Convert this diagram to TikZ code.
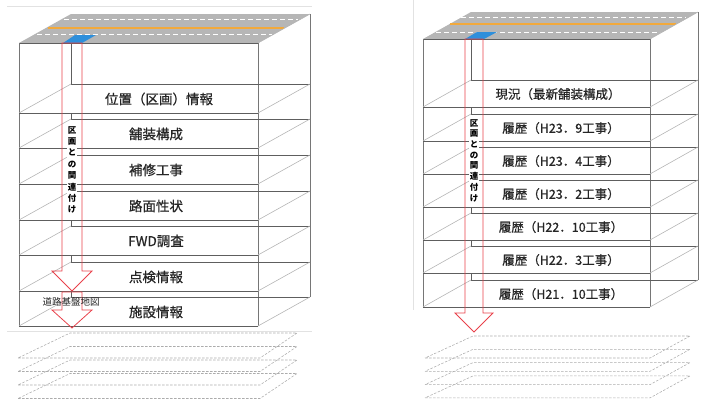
\documentclass[tikz,border=0pt]{standalone}
\usepackage{fontspec}
\setmainfont{Noto Sans CJK JP}
\newfontfamily\lblfont{Noto Sans CJK JP}[FakeBold=0.7]
\definecolor{roadgray}{HTML}{B6B6B6}
\definecolor{edgegray}{HTML}{5E5E5E}
\definecolor{diaggray}{HTML}{B4B4B4}
\definecolor{arrowred}{HTML}{E8414B}
\definecolor{laneorange}{HTML}{F2A93B}
\definecolor{patchblue}{HTML}{2E8FDB}
\definecolor{framegray}{HTML}{E2E2E2}
\tikzset{
  edgeline/.style={draw=edgegray, line width=0.9pt},
  backline/.style={draw=edgegray, line width=0.7pt},
  diagline/.style={draw=diaggray, line width=0.6pt},
  vertline/.style={draw=edgegray!85, line width=0.8pt},
  ghostplane/.style={draw=gray!65, line width=0.55pt, dash pattern=on 2.5pt off 1.5pt},
  hollowarrow/.style={draw=arrowred, line width=0.8pt, line join=miter},
  lanedash/.style={draw=white, line width=0.9pt, dash pattern=on 5pt off 3pt},
  laneline/.style={draw=laneorange, line width=1.4pt},
  framel/.style={draw=framegray, line width=0.6pt},
  lblL/.style={inner sep=0, text=black!85, font=\lblfont\fontsize{13.5}{15}\selectfont},
  lblR/.style={inner sep=0, text=black!85, font=\lblfont\fontsize{12.5}{14}\selectfont},
  vtextL/.style={inner sep=0.5pt, fill=white, align=center, font=\bfseries\fontsize{8.5}{11.4}\selectfont},
  vtextR/.style={inner sep=0.5pt, fill=white, align=center, font=\bfseries\fontsize{8.5}{10.7}\selectfont},
  smalllbl/.style={inner sep=0, text=black!85, font=\fontsize{9.5}{10}\selectfont}
}
\begin{document}
\begin{tikzpicture}[x=1pt,y=-1pt]
\useasboundingbox (0,0) rectangle (708,399);
% faint frames of the pasted pictures
\draw[framel] (7,6) -- (312,6);
\draw[framel] (7,331) -- (312,331);
\draw[framel] (413,0) -- (413,310);

% ================= LEFT BLOCK =================
\fill[roadgray] (19,43) -- (258,43) -- (310,14) -- (71,14) -- cycle;
\draw[lanedash] (64,19) -- (298,19);
\draw[lanedash] (37,34) -- (272,34);
\draw[laneline] (48,28) -- (284,28);
\fill[patchblue] (63,43) -- (82,43) -- (96,35) -- (75,35) -- cycle;
\draw[edgeline] (19,43) -- (258,43);
\draw[diagline] (258,43) -- (310,14);
\draw[vertline] (19,43) -- (19,326);
\draw[vertline] (258,43) -- (258,326);
\draw[vertline] (310,14) -- (310,297);
\foreach \y in {113,148,184,220,255,291,326}{
  \draw[backline] (71,\y-29) -- (310,\y-29);
  \draw[diagline] (19,\y) -- (71,\y-29);
  \draw[diagline] (258,\y) -- (310,\y-29);
  \draw[edgeline] (19,\y) -- (258,\y);
}
\foreach \a/\b in {43/113,113/148,148/184,184/220,220/255,255/291,291/326}{
  \draw[backline] (71,\a) -- (71,\b-29);
}
\node[lblL] (l1) at (159,99) {位置（区画）情報};
\node[lblL] (l2) at (156,134) {舗装構成};
\node[lblL] (l3) at (156,170) {補修工事};
\node[lblL] (l4) at (156,206) {路面性状};
\node[lblL] (l5) at (156,241) {FWD調査};
\node[lblL] (l6) at (156,277) {点検情報};
\node[lblL] (l7) at (156,312) {施設情報};
\foreach \k in {0,1,2,3}{
  \pgfmathsetmacro{\bb}{333+13.5*\k}
  \draw[ghostplane] (18,\bb+25) -- (260,\bb+25) -- (297,\bb) -- (70,\bb) -- cycle;
}
\draw[hollowarrow] (62,43) -- (82,43) -- (82,271) -- (92,271) -- (72,291) -- (52,271) -- (62,271) -- cycle;
\draw[hollowarrow] (62,292) -- (82,292) -- (82,310) -- (92,310) -- (72,328) -- (52,310) -- (62,310) -- cycle;
\node[vtextL] (vl) at (72,170) {区\\画\\と\\の\\関\\連\\付\\け};
\node[smalllbl] (base) at (71,302) {道路基盤地図};

% ================= RIGHT BLOCK =================
\fill[roadgray] (423,39) -- (650,39) -- (698,12) -- (471,12) -- cycle;
\draw[lanedash] (461,17) -- (686,17);
\draw[lanedash] (436,32) -- (660,32);
\draw[laneline] (450,24) -- (676,24);
\fill[patchblue] (465,39) -- (484,39) -- (497,32) -- (477,32) -- cycle;
\draw[edgeline] (423,39) -- (650,39);
\draw[diagline] (650,39) -- (698,12);
\draw[vertline] (423,39) -- (423,307);
\draw[vertline] (650,39) -- (650,307);
\draw[vertline] (698,12) -- (698,280);
\foreach \y in {107,141,174,207,240,273,307}{
  \draw[backline] (471,\y-27) -- (698,\y-27);
  \draw[diagline] (423,\y) -- (471,\y-27);
  \draw[diagline] (650,\y) -- (698,\y-27);
  \draw[edgeline] (423,\y) -- (650,\y);
}
\foreach \a/\b in {39/107,107/141,141/174,174/207,207/240,240/273,273/307}{
  \draw[backline] (471,\a) -- (471,\b-27);
}
\node[lblR] (r1) at (558,94) {現況（最新舗装構成）};
\node[lblR] (r2) at (561,128) {履歴（H23．9工事）};
\node[lblR] (r3) at (561,161) {履歴（H23．4工事）};
\node[lblR] (r4) at (561,194) {履歴（H23．2工事）};
\node[lblR] (r5) at (561,227) {履歴（H22．10工事）};
\node[lblR] (r6) at (561,260) {履歴（H22．3工事）};
\node[lblR] (r7) at (561,294) {履歴（H21．10工事）};
\foreach \k in {0,1,2,3}{
  \pgfmathsetmacro{\bb}{336+13.3*\k}
  \draw[ghostplane] (425,\bb+22) -- (650,\bb+22) -- (690,\bb) -- (473,\bb) -- cycle;
}
\draw[hollowarrow] (465,39) -- (483,39) -- (483,313) -- (493,313) -- (474,332) -- (455,313) -- (465,313) -- cycle;
\node[vtextR] (vr) at (474,160.5) {区\\画\\と\\の\\関\\連\\付\\け};
\end{tikzpicture}
\end{document}
